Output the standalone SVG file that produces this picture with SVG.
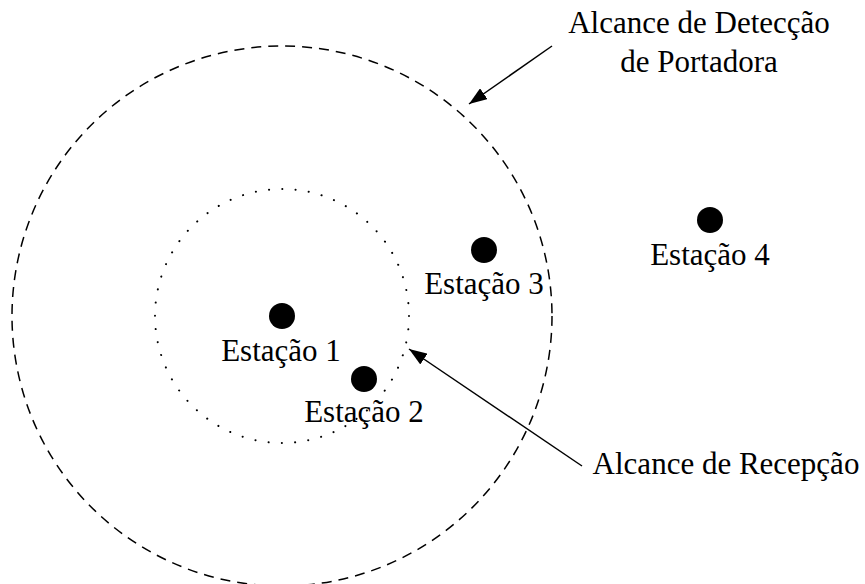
<svg xmlns="http://www.w3.org/2000/svg" width="865" height="584" viewBox="0 0 865 584">
<style>
text{font-family:'Liberation Serif','Times New Roman',serif;font-size:31px;fill:#000;text-anchor:middle}
.big{fill:none;stroke:#000;stroke-width:1.5;stroke-dasharray:10 7}
.small{fill:none;stroke:#000;stroke-width:2;stroke-dasharray:0.1 13.2;stroke-linecap:round}
.dot{fill:#000}
.arr{fill:none;stroke:#000;stroke-width:1.5;marker-end:url(#ah)}
</style>
<defs>
<marker id="ah" markerUnits="userSpaceOnUse" markerWidth="19" markerHeight="13" refX="18" refY="6.5" orient="auto">
<path d="M0,0 L18,6.5 L0,13 z" fill="#000"/>
</marker>
</defs>
<rect width="865" height="584" fill="#fff"/>
<g id="ranges">
<circle class="big" cx="282" cy="316" r="270"/>
<circle class="small" cx="282" cy="316" r="127"/>
</g>
<g id="estacao1"><circle class="dot" cx="282" cy="316" r="13"/><text x="281" y="361">Estação 1</text></g>
<g id="estacao2"><circle class="dot" cx="364" cy="379" r="13"/><text x="364" y="422">Estação 2</text></g>
<g id="estacao3"><circle class="dot" cx="484" cy="250" r="13"/><text x="484" y="294">Estação 3</text></g>
<g id="estacao4"><circle class="dot" cx="710" cy="220" r="13"/><text x="710" y="265">Estação 4</text></g>
<g id="label-portadora"><text x="699" y="33">Alcance de Detecção</text><text x="699" y="72">de Portadora</text></g>
<g id="label-recepcao"><text x="726" y="474">Alcance de Recepção</text></g>
<g id="connectors">
<line class="arr" x1="552" y1="46" x2="469" y2="104"/>
<line class="arr" x1="582" y1="466" x2="409" y2="349"/>
</g>
</svg>
